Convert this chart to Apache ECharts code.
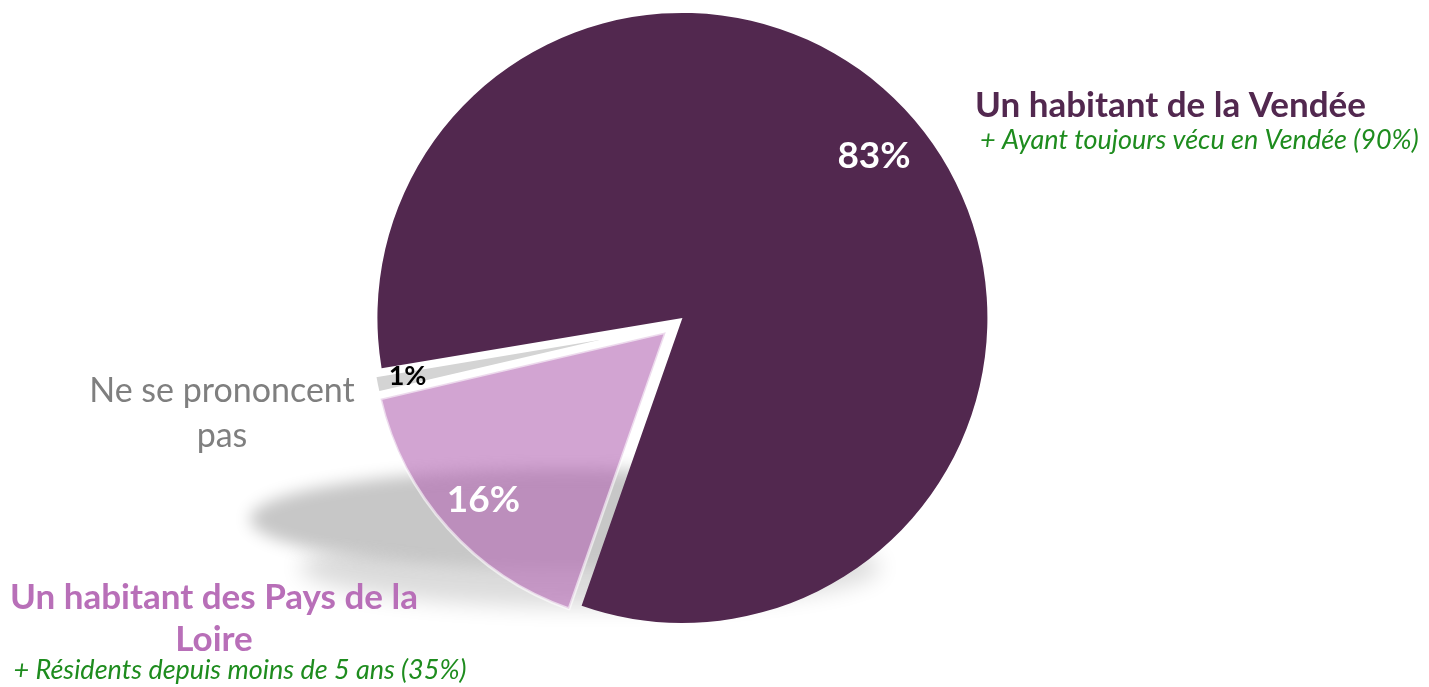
<!DOCTYPE html>
<html><head><meta charset="utf-8">
<script src="https://cdn.jsdelivr.net/npm/echarts@6/dist/echarts.min.js"></script>
<style>html,body{margin:0;padding:0;background:#fff}#c{width:1429px;height:687px}</style>
</head><body><div id="c"></div>
<script>
const categories = ['Un habitant de la Vendée', 'Un habitant des Pays de la Loire', 'Ne se prononcent pas'];
const values = [83, 16, 1];
const subtitles = ['+ Ayant toujours vécu en Vendée (90%)', '+ Résidents depuis moins de 5 ans (35%)', ''];
const sliceColors = ['#52284F', '#B467B4', '#D4D4D4'];
const labelColors = ['#ffffff', '#ffffff', '#000000'];
const labelSizes = [37, 37, 27];
const labelPads = [[0, 0, 0, 0], [0, 0, 6, 8], [0, 20, 0, 0]];

const FONT = 'Lato, "Open Sans", sans-serif';
const chart = echarts.init(document.getElementById('c'), null, {renderer: 'canvas'});
const center = [674, 325];
const START = 189.5;
const T = 'rgba(0,0,0,0)';
const FAR = 4000;

function pieData(visibleIdx, styleFn) {
  return categories.map((name, i) => ({
    name, value: values[i], selected: true,
    itemStyle: visibleIdx.includes(i) ? styleFn(i) : {color: T, borderWidth: 0}
  }));
}

function blurEllipse(cx, cy, rx, ry, color, blur, z) {
  return {type: 'ellipse', z, x: cx + FAR, y: cy, silent: true,
    shape: {cx: 0, cy: 0, rx, ry},
    style: {fill: color, shadowBlur: blur, shadowColor: color, shadowOffsetX: -FAR, shadowOffsetY: 0}};
}

const option = {
  animation: false,
  graphic: [
    blurEllipse(590, 567, 290, 40, '#DCDCDC', 22, 0),
    blurEllipse(565, 519, 315, 50, '#C7C7C7', 16, 1),
    {type: 'text', z: 10, x: 975, y: 106,
     style: {text: categories[0], font: 'bold 35px ' + FONT, fill: '#52284F', textAlign: 'left', textVerticalAlign: 'middle'}},
    {type: 'text', z: 10, x: 980, y: 140,
     style: {text: subtitles[0], font: 'italic 27px ' + FONT, fill: '#1E8C1E', textAlign: 'left', textVerticalAlign: 'middle'}},
    {type: 'text', z: 10, x: 222, y: 414,
     style: {text: categories[2].replace(' pas', '\npas'), font: '34px ' + FONT, fill: '#7F7F7F', textAlign: 'center', textVerticalAlign: 'middle', lineHeight: 45}},
    {type: 'text', z: 10, x: 214, y: 619,
     style: {text: categories[1].replace(' Loire', '\nLoire'), font: 'bold 35px ' + FONT, fill: '#B86FB8', textAlign: 'center', textVerticalAlign: 'middle', lineHeight: 42}},
    {type: 'text', z: 10, x: 240, y: 670,
     style: {text: subtitles[1], font: 'italic 27px ' + FONT, fill: '#1E8C1E', textAlign: 'center', textVerticalAlign: 'middle'}}
  ],
  series: [
    {type: 'pie', z: 5, silent: true, selectedMode: 'multiple', selectedOffset: 11,
     center, radius: [0, 305], startAngle: START, clockwise: true, label: {show: false}, labelLine: {show: false},
     data: pieData([0], i => ({color: sliceColors[i], borderWidth: 0}))},
    {type: 'pie', z: 6, silent: true, selectedMode: 'multiple', selectedOffset: 11,
     center, radius: [0, 293], startAngle: START, clockwise: true, label: {show: false}, labelLine: {show: false},
     data: pieData([1, 2], i => ({color: sliceColors[i], opacity: i === 1 ? 0.6 : 1, borderColor: '#ffffff', borderWidth: i === 1 ? 3 : 4}))},
    {type: 'pie', z: 7, silent: true, selectedMode: 'multiple', selectedOffset: 11,
     center, radius: [190, 305], startAngle: START, clockwise: true, labelLine: {show: false},
     label: {show: true, position: 'inside', formatter: p => p.value + '%'},
     data: categories.map((name, i) => ({
       name, value: values[i], selected: true,
       itemStyle: {color: T, borderWidth: 0},
       label: {color: labelColors[i], fontSize: labelSizes[i], fontWeight: 'bold', fontFamily: FONT, textBorderWidth: 0, padding: labelPads[i]}
     }))}
  ]
};
chart.setOption(option);
</script>
</body></html>
